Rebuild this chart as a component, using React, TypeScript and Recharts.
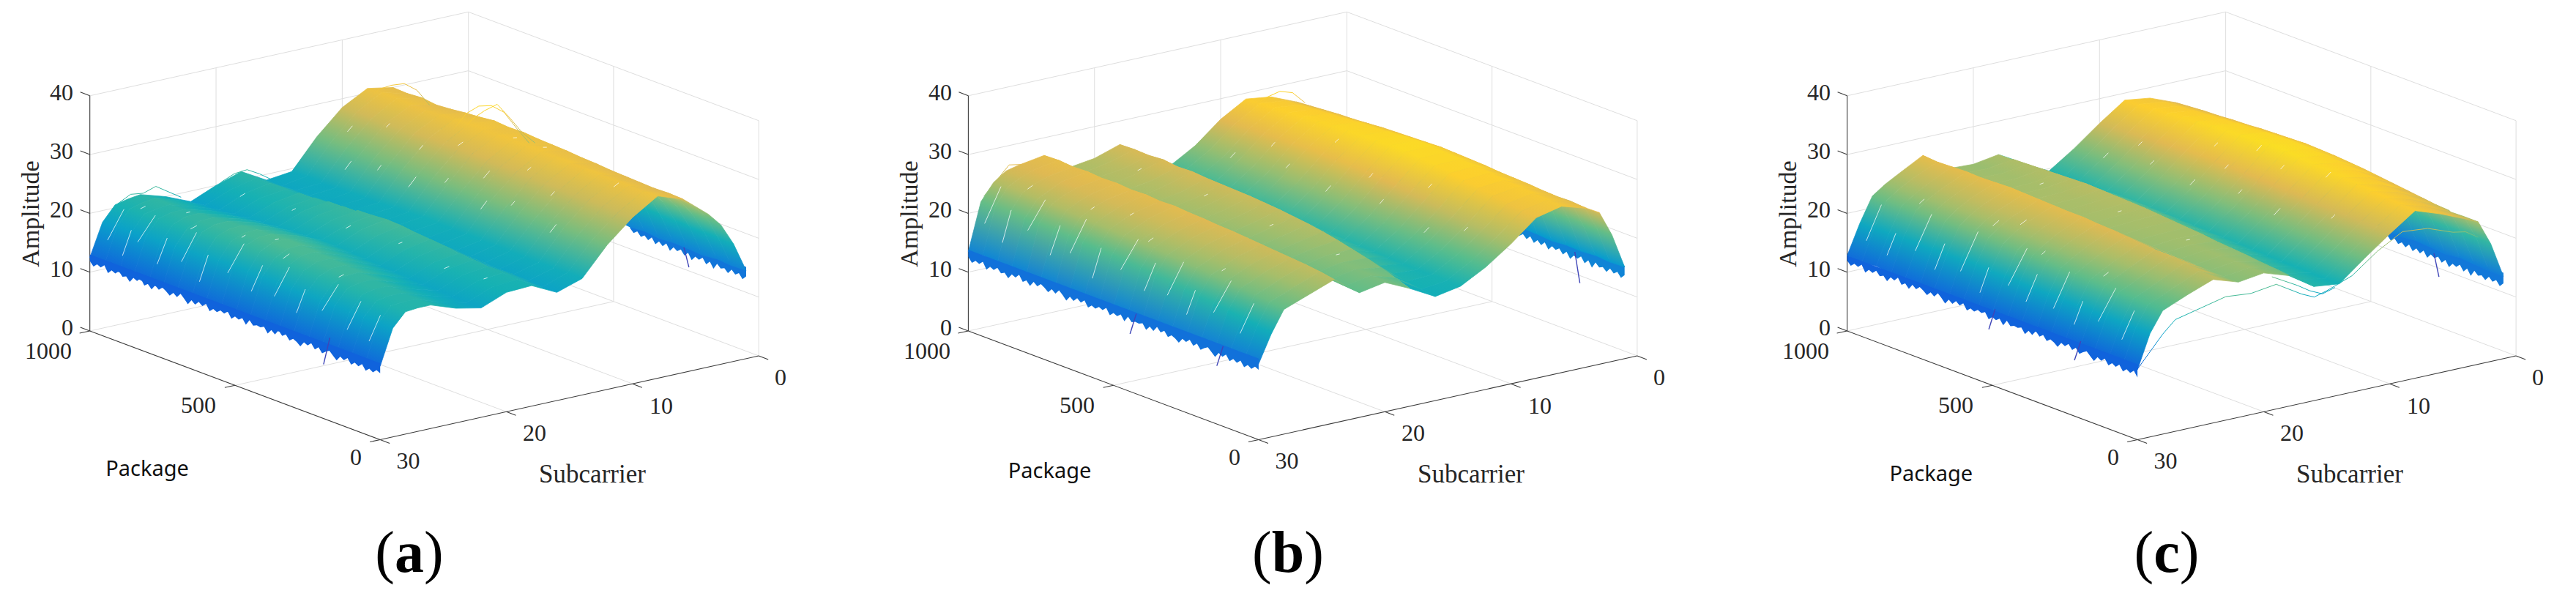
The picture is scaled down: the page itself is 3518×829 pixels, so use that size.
import { Area, ComposedChart, Line, XAxis, YAxis } from 'recharts';

const W = 1200;
const H = 829;

const subcarriers = [30, 29, 28, 27, 26, 24, 22, 20, 18, 16, 14, 12, 10, 8, 6, 4, 3, 2, 1];
const packages = [1000, 950, 900, 850, 800, 750, 700, 650, 600, 550, 500, 450, 400, 350, 300, 250, 200, 150, 100, 50, 0];

const amplitudeTicks = [0, 10, 20, 30, 40];
const packageTicks = [0, 500, 1000];
const subcarrierTicks = [0, 10, 20, 30];

// amplitude per package (rows) and subcarrier (columns)
const rowsA = [
  [12.5, 18.0, 20.5, 21.0, 21.3, 20.0, 18.2, 20.0, 21.4, 19.0, 19.5, 24.5, 28.5, 30.8, 30.0, 26.5, 24.0, 20.5, 15.5],
  [12.2, 18.2, 20.7, 21.3, 21.6, 20.3, 18.5, 20.2, 21.2, 18.9, 19.6, 24.6, 28.7, 31.0, 29.9, 26.4, 23.8, 20.3, 15.2],
  [11.9, 18.1, 20.8, 21.2, 21.4, 20.1, 18.7, 20.5, 21.3, 19.1, 19.4, 24.3, 28.4, 30.9, 30.1, 26.6, 24.1, 20.4, 15.6],
  [12.1, 18.4, 20.9, 21.5, 21.5, 20.4, 18.9, 20.6, 21.1, 19.2, 19.5, 24.4, 28.6, 30.7, 29.8, 26.3, 23.7, 20.1, 15.0],
  [11.7, 18.3, 20.9, 21.7, 21.8, 20.6, 19.1, 20.8, 21.5, 19.0, 19.7, 24.7, 28.5, 30.8, 30.0, 26.7, 24.0, 20.2, 15.4],
  [12.0, 18.5, 21.2, 21.9, 22.0, 20.9, 19.3, 21.0, 21.6, 19.3, 19.6, 24.5, 28.8, 31.0, 30.3, 26.8, 24.2, 20.5, 15.3],
  [12.3, 18.6, 21.4, 22.2, 22.3, 21.2, 19.5, 21.2, 21.9, 19.4, 19.8, 24.8, 28.9, 31.2, 30.5, 27.0, 24.3, 20.6, 15.5],
  [12.2, 18.8, 21.6, 22.4, 22.5, 21.4, 19.7, 21.4, 22.0, 19.5, 19.9, 24.7, 28.8, 31.3, 30.8, 27.3, 24.7, 20.7, 15.4],
  [12.4, 18.9, 21.7, 22.6, 22.7, 21.5, 19.8, 21.5, 22.2, 19.4, 20.0, 24.9, 28.9, 31.1, 30.6, 27.1, 24.5, 20.5, 15.2],
  [12.1, 19.0, 21.9, 22.8, 22.9, 21.7, 20.0, 21.6, 22.3, 19.6, 20.1, 24.8, 29.0, 31.3, 30.7, 27.2, 24.4, 20.4, 15.4],
  [12.0, 18.8, 21.8, 22.9, 23.0, 21.6, 19.9, 21.7, 22.5, 19.5, 20.0, 24.6, 28.7, 31.2, 30.5, 27.0, 24.3, 20.6, 15.1],
  [12.3, 18.9, 21.6, 22.7, 22.8, 21.4, 19.7, 21.5, 22.4, 19.3, 19.9, 24.7, 28.8, 31.3, 30.4, 26.9, 24.2, 20.3, 15.3],
  [12.2, 18.7, 21.4, 22.5, 22.6, 21.2, 19.5, 21.4, 22.1, 19.2, 20.0, 24.8, 28.6, 31.1, 30.3, 26.8, 24.1, 20.4, 15.0],
  [12.0, 18.6, 21.3, 22.3, 22.4, 21.0, 19.3, 21.1, 21.9, 19.0, 19.8, 24.5, 28.5, 31.2, 30.1, 26.6, 23.9, 20.2, 15.2],
  [12.4, 18.8, 21.2, 22.1, 22.2, 20.8, 19.2, 21.0, 21.7, 18.9, 19.9, 24.6, 28.6, 31.0, 30.0, 26.7, 24.0, 20.3, 14.9],
  [12.1, 18.5, 21.0, 21.8, 21.9, 20.5, 19.0, 20.8, 21.4, 18.8, 19.8, 24.4, 28.4, 31.1, 29.8, 26.5, 24.1, 20.1, 15.1],
  [12.3, 18.6, 21.1, 21.6, 21.6, 20.2, 18.9, 20.6, 21.2, 18.6, 19.7, 24.5, 28.3, 30.9, 29.7, 26.6, 23.9, 20.2, 15.0],
  [12.0, 18.4, 20.9, 21.4, 21.4, 20.0, 18.8, 20.5, 21.0, 18.7, 19.8, 24.7, 28.5, 31.0, 29.6, 26.4, 24.0, 20.0, 14.8],
  [12.2, 18.5, 20.8, 21.2, 21.2, 19.8, 18.7, 20.4, 20.8, 18.5, 19.7, 24.5, 28.4, 30.8, 29.5, 26.5, 23.8, 20.1, 15.1],
  [12.4, 18.4, 20.9, 21.1, 21.1, 19.6, 18.6, 20.3, 20.6, 18.4, 19.9, 24.6, 28.2, 30.9, 29.6, 26.4, 24.1, 19.9, 14.9],
  [12.5, 18.5, 20.8, 21.0, 21.0, 19.5, 18.6, 20.3, 20.5, 18.4, 19.8, 24.6, 28.3, 31.0, 29.5, 26.0, 23.7, 20.0, 15.0],
];

const rowsB = [
  [13.5, 21.5, 24.3, 25.8, 26.3, 27.0, 24.0, 24.6, 26.0, 22.5, 20.5, 23.0, 26.5, 29.0, 28.4, 26.6, 24.4, 20.5, 15.5],
  [13.8, 21.7, 24.5, 25.6, 26.4, 27.1, 24.1, 24.8, 26.1, 22.6, 20.6, 23.2, 26.7, 29.2, 28.7, 26.8, 24.5, 20.6, 15.3],
  [13.4, 21.6, 24.4, 25.5, 26.2, 26.9, 24.2, 24.7, 26.0, 22.4, 20.4, 23.1, 26.8, 29.4, 28.9, 27.0, 24.8, 20.8, 15.6],
  [13.7, 21.4, 24.2, 25.3, 26.3, 27.0, 24.0, 24.9, 26.2, 22.3, 20.3, 23.3, 26.9, 29.5, 29.1, 27.2, 25.0, 20.7, 15.4],
  [13.3, 21.5, 24.3, 25.4, 26.1, 26.8, 23.9, 24.6, 25.9, 22.2, 20.2, 23.2, 27.0, 29.7, 29.3, 27.3, 25.2, 20.9, 15.7],
  [13.6, 21.3, 24.1, 25.2, 26.0, 26.9, 23.8, 24.7, 26.0, 22.1, 20.1, 23.1, 27.1, 29.8, 29.5, 27.5, 25.3, 21.0, 15.5],
  [13.2, 21.2, 24.0, 25.1, 25.9, 26.7, 23.7, 24.5, 25.8, 22.0, 20.0, 23.3, 27.2, 30.0, 29.7, 27.7, 25.5, 21.2, 15.8],
  [13.5, 21.0, 23.8, 24.9, 25.8, 26.8, 23.6, 24.4, 25.7, 21.8, 19.9, 23.1, 27.0, 30.1, 29.8, 27.8, 25.6, 21.1, 15.6],
  [13.3, 20.9, 23.7, 24.8, 25.7, 26.6, 23.5, 24.3, 25.6, 21.6, 19.7, 22.9, 27.1, 30.2, 30.0, 27.9, 25.7, 21.3, 15.9],
  [13.1, 20.7, 23.6, 24.6, 25.6, 26.7, 23.4, 24.2, 25.5, 21.4, 19.6, 22.8, 26.9, 30.3, 30.2, 28.0, 25.8, 21.2, 15.7],
  [13.4, 20.5, 23.4, 24.5, 25.5, 26.5, 23.2, 24.1, 25.3, 21.2, 19.4, 22.6, 26.7, 30.4, 30.3, 28.1, 25.9, 21.4, 15.6],
  [13.2, 20.3, 23.3, 24.3, 25.3, 26.4, 23.0, 23.9, 25.1, 21.0, 19.2, 22.4, 26.5, 30.2, 30.1, 28.0, 26.0, 21.5, 15.8],
  [13.0, 20.1, 23.1, 24.1, 25.1, 26.2, 22.8, 23.7, 24.8, 20.7, 19.0, 22.2, 26.2, 30.0, 30.0, 27.9, 25.9, 21.3, 15.5],
  [13.3, 19.8, 22.9, 23.9, 24.9, 26.1, 22.6, 23.5, 24.5, 20.4, 18.9, 21.9, 25.9, 29.7, 29.8, 27.8, 25.8, 21.4, 15.7],
  [13.1, 19.5, 22.7, 23.7, 24.7, 25.9, 22.4, 23.3, 24.1, 20.1, 18.8, 21.7, 25.5, 29.3, 29.5, 27.6, 25.9, 21.5, 15.6],
  [12.9, 19.2, 22.5, 23.4, 24.5, 25.7, 22.2, 23.1, 23.6, 19.7, 18.7, 21.5, 25.1, 29.0, 29.3, 27.5, 25.8, 21.3, 15.4],
  [13.1, 18.9, 22.3, 23.2, 24.2, 25.5, 22.0, 22.9, 23.0, 19.2, 18.6, 21.3, 24.8, 28.6, 29.0, 27.4, 25.7, 21.4, 15.6],
  [12.8, 18.6, 22.0, 22.9, 23.9, 25.3, 21.8, 22.6, 22.4, 18.8, 18.5, 21.1, 24.5, 28.2, 28.8, 27.2, 25.8, 21.6, 15.5],
  [13.0, 18.2, 21.8, 22.6, 23.6, 25.1, 21.6, 22.4, 21.7, 18.4, 18.6, 21.0, 24.2, 27.8, 28.6, 27.1, 25.9, 21.4, 15.7],
  [12.7, 17.8, 21.5, 22.3, 23.2, 24.8, 21.4, 22.2, 20.9, 18.0, 18.5, 20.9, 24.0, 27.5, 28.4, 27.0, 25.7, 21.5, 15.5],
  [12.9, 17.5, 21.2, 22.0, 22.8, 24.4, 21.2, 22.0, 20.0, 17.7, 18.5, 20.8, 23.8, 27.3, 28.3, 27.0, 25.8, 21.5, 15.6],
];

const rowsC = [
  [12.8, 17.8, 22.0, 23.5, 24.7, 27.0, 23.8, 23.6, 24.3, 21.8, 19.6, 22.5, 25.8, 28.8, 28.2, 26.5, 24.0, 20.0, 14.5],
  [12.5, 18.0, 22.2, 23.7, 24.9, 26.8, 23.9, 23.8, 24.4, 21.7, 19.5, 22.6, 26.0, 29.0, 28.5, 26.7, 24.2, 20.2, 14.3],
  [12.9, 17.9, 22.1, 23.6, 24.8, 26.9, 24.0, 23.9, 24.5, 21.6, 19.7, 22.7, 26.2, 29.2, 28.7, 26.9, 24.3, 20.1, 14.6],
  [12.4, 18.1, 22.3, 23.8, 25.0, 27.0, 23.9, 24.0, 24.6, 21.8, 19.8, 22.9, 26.3, 29.4, 28.9, 27.0, 24.5, 20.3, 14.4],
  [12.7, 18.0, 22.4, 23.9, 25.1, 26.9, 24.0, 24.1, 24.7, 21.9, 19.9, 23.0, 26.5, 29.6, 29.1, 27.2, 24.7, 20.4, 14.7],
  [12.3, 18.2, 22.3, 24.0, 25.2, 27.0, 24.1, 24.2, 24.8, 22.0, 20.0, 23.1, 26.6, 29.8, 29.3, 27.3, 24.8, 20.5, 14.5],
  [12.6, 18.1, 22.5, 24.1, 25.3, 27.1, 24.2, 24.3, 24.9, 22.1, 20.0, 23.2, 26.8, 30.0, 29.5, 27.5, 25.0, 20.4, 14.6],
  [12.2, 18.3, 22.4, 24.0, 25.2, 27.0, 24.1, 24.2, 24.8, 22.0, 19.9, 23.1, 26.9, 30.1, 29.6, 27.6, 25.1, 20.6, 14.4],
  [12.5, 18.2, 22.3, 23.9, 25.1, 26.9, 24.0, 24.3, 24.7, 21.9, 19.8, 23.0, 26.8, 30.3, 29.8, 27.7, 25.2, 20.5, 14.7],
  [12.1, 18.0, 22.2, 23.8, 25.0, 26.8, 24.0, 24.2, 24.6, 21.7, 19.7, 22.9, 26.7, 30.4, 29.9, 27.8, 25.3, 20.7, 14.5],
  [12.4, 18.1, 22.1, 23.7, 24.9, 26.7, 23.9, 24.1, 24.5, 21.5, 19.6, 22.8, 26.6, 30.5, 29.9, 27.7, 25.2, 20.6, 14.3],
  [12.0, 17.9, 22.0, 23.5, 24.8, 26.7, 23.8, 24.1, 24.3, 21.3, 19.5, 22.7, 26.5, 30.3, 29.7, 27.6, 25.1, 20.4, 14.6],
  [12.3, 17.8, 21.9, 23.4, 24.6, 26.5, 23.7, 24.0, 24.1, 21.0, 19.4, 22.6, 26.4, 30.1, 29.5, 27.4, 25.0, 20.5, 14.4],
  [11.9, 17.9, 21.8, 23.2, 24.4, 26.4, 23.6, 23.9, 23.9, 20.8, 19.3, 22.6, 26.3, 29.9, 29.2, 27.2, 24.9, 20.3, 14.2],
  [12.2, 17.7, 21.7, 23.0, 24.2, 26.2, 23.5, 23.9, 23.7, 20.6, 19.2, 22.5, 26.1, 29.7, 28.9, 26.9, 24.7, 20.2, 14.5],
  [12.0, 17.8, 21.6, 22.8, 24.0, 26.0, 23.4, 23.8, 23.4, 20.4, 19.1, 22.5, 26.0, 29.5, 28.6, 26.6, 24.6, 20.3, 14.3],
  [11.8, 17.6, 21.5, 22.6, 23.7, 25.8, 23.3, 23.8, 23.2, 20.2, 19.0, 22.4, 25.9, 29.3, 28.2, 26.3, 24.5, 20.1, 14.1],
  [12.1, 17.7, 21.4, 22.4, 23.5, 25.6, 23.2, 23.7, 23.0, 20.0, 19.0, 22.4, 25.8, 29.0, 27.9, 26.0, 24.4, 20.2, 14.4],
  [11.9, 17.5, 21.2, 22.2, 23.2, 25.3, 23.1, 23.7, 22.7, 19.8, 18.9, 22.3, 25.7, 28.8, 27.6, 25.7, 24.3, 20.0, 14.2],
  [12.0, 17.6, 21.1, 22.0, 23.0, 24.9, 23.0, 23.6, 22.5, 19.6, 18.9, 22.3, 25.6, 28.6, 27.3, 25.4, 24.2, 20.1, 14.0],
  [11.9, 17.6, 21.0, 21.9, 22.8, 24.4, 23.0, 23.6, 22.2, 19.4, 18.9, 22.3, 25.5, 28.5, 27.0, 25.2, 24.2, 20.0, 14.0],
];

// ragged lower edge at subcarrier 30, package 1000 down to 0 in steps of 12.5
const fringeA = [11.9, 11.2, 11.8, 11.5, 12.1, 11.0, 11.7, 11.4, 12.0, 11.3, 11.6, 10.9, 11.8, 11.5, 12.2, 11.2, 11.7, 11.0, 11.9, 11.4, 12.0, 11.6, 11.1, 11.8, 11.3, 12.1, 11.5, 10.8, 11.7, 11.2, 11.9, 11.4, 12.0, 11.0, 11.6, 11.3, 11.8, 11.5, 12.1, 11.1, 11.7, 11.4, 11.9, 11.0, 12.0, 11.3, 11.6, 11.5, 11.8, 10.9, 11.7, 11.2, 12.1, 11.4, 11.9, 11.1, 11.6, 11.3, 10.8, 11.7, 11.4, 12.0, 11.2, 11.8, 11.0, 11.5, 11.9, 11.3, 10.7, 11.6, 11.2, 11.8, 10.9, 11.5, 11.1, 11.7, 10.8, 11.4, 11.0, 11.6, 11.3];
const fringeB = [12.6, 11.8, 12.4, 12.1, 12.7, 11.6, 12.3, 12.0, 12.6, 11.9, 12.2, 11.5, 12.4, 12.1, 12.8, 11.8, 12.3, 11.6, 12.5, 12.0, 12.6, 12.2, 11.7, 12.4, 11.9, 12.7, 12.1, 11.4, 12.3, 11.8, 12.5, 12.0, 12.6, 11.6, 12.2, 11.9, 12.4, 12.1, 12.7, 11.7, 12.3, 12.0, 12.5, 11.6, 12.6, 11.9, 12.2, 12.1, 12.4, 11.5, 12.3, 11.8, 12.7, 12.0, 12.5, 11.7, 12.2, 11.9, 11.4, 12.3, 12.0, 12.6, 11.8, 12.4, 11.6, 12.1, 12.5, 11.9, 11.3, 12.2, 11.8, 12.4, 11.5, 12.1, 11.7, 12.3, 11.4, 12.0, 11.6, 12.2, 11.9];
const fringeC = [12.0, 11.3, 11.9, 11.6, 12.2, 11.1, 11.8, 11.5, 12.1, 11.4, 11.7, 11.0, 11.9, 11.6, 12.3, 11.3, 11.8, 11.1, 12.0, 11.5, 12.1, 11.7, 11.2, 11.9, 11.4, 12.2, 11.6, 10.9, 11.8, 11.3, 12.0, 11.5, 12.1, 11.1, 11.7, 11.4, 11.9, 11.6, 12.0, 11.0, 11.6, 11.3, 11.8, 10.9, 11.9, 11.2, 11.5, 11.4, 11.7, 10.8, 11.6, 11.1, 12.0, 11.3, 11.8, 11.0, 11.5, 11.2, 10.7, 11.6, 11.3, 11.9, 11.1, 11.7, 10.9, 11.4, 11.8, 11.2, 10.6, 11.5, 11.1, 11.7, 10.8, 11.4, 11.0, 11.6, 10.7, 11.3, 10.9, 11.5, 10.6];

// ragged lower edge at subcarrier 1, package 400 down to 0 in steps of 12.5
const tailFringeA = [14.8, 14.2, 14.7, 14.0, 14.5, 13.9, 14.6, 13.7, 14.4, 13.8, 14.5, 13.5, 14.3, 13.9, 14.4, 13.6, 14.3, 13.3, 14.1, 13.8, 14.4, 13.5, 14.2, 13.2, 14.3, 13.7, 14.0, 13.4, 14.2, 13.6, 14.1, 13.3, 14.0];
const tailFringeB = [15.0, 14.4, 14.9, 14.2, 14.7, 14.1, 14.8, 13.9, 14.6, 14.0, 14.7, 13.7, 14.5, 14.1, 14.6, 13.8, 14.5, 13.5, 14.3, 14.0, 14.6, 13.7, 14.4, 13.4, 14.5, 13.9, 14.2, 13.6, 14.4, 13.8, 14.3, 13.5, 14.2];
const tailFringeC = [13.6, 12.9, 13.5, 12.8, 13.3, 12.7, 13.4, 12.5, 13.2, 12.6, 13.3, 12.3, 13.1, 12.7, 13.2, 12.4, 13.1, 12.1, 12.9, 12.6, 13.2, 12.3, 13.0, 12.0, 13.1, 12.5, 12.8, 12.2, 13.0, 12.4, 12.9, 12.1, 12.8];

// [subcarrier, package, low amplitude, amplitude it rises to]
const spikesA = [[30, 195, 9.2, 13.5], [1, 197, 11.9, 15.5]];
const spikesB = [[30, 443, 9.8, 13], [30, 144, 9.9, 13], [1, 154, 10, 15.5]];
const spikesC = [[30, 512, 9.3, 12.5], [30, 217, 9.5, 12.5], [1, 222, 9.8, 14]];

// places where the lines leave a thin gap: [subcarrier, package, length in subcarriers]
const gapsA = [[29.4, 965, 1.3], [29.6, 905, 0.7], [29.2, 870, 1.4], [29.5, 790, 0.8], [29.3, 715, 1.2], [29.6, 640, 0.7], [29.2, 560, 1.3], [29.4, 470, 0.9], [29.3, 395, 1.2], [29.5, 310, 0.7], [29.2, 235, 1.3], [29.4, 140, 1.1], [29.5, 60, 0.9], [27.6, 930, 0.4], [28, 740, 0.5], [27.4, 590, 0.3], [27.8, 430, 0.5], [27.3, 260, 0.4], [26.5, 820, 0.3], [26.6, 510, 0.3], [20.4, 900, 0.4], [20.2, 730, 0.3], [20.3, 540, 0.4], [19.8, 380, 0.3], [20.1, 210, 0.4], [19.5, 100, 0.3], [13, 860, 0.5], [12.5, 770, 0.3], [12.8, 650, 0.6], [12, 560, 0.3], [12.6, 410, 0.5], [11.8, 340, 0.3], [12.4, 180, 0.5], [11.2, 930, 0.4], [10.8, 700, 0.3], [11, 470, 0.5], [10.5, 260, 0.3], [10.2, 840, 0.3], [9.8, 610, 0.4], [9.6, 380, 0.3], [7.5, 520, 0.3], [7.2, 430, 0.3], [8.5, 130, 0.4]];
const gapsB = [[29.4, 970, 1.3], [29.6, 900, 0.7], [29.2, 830, 1.4], [29.5, 740, 0.8], [29.3, 680, 1.3], [29.6, 590, 0.7], [29.2, 510, 1.4], [29.4, 420, 0.9], [29.3, 345, 1.3], [29.5, 270, 0.7], [29.2, 190, 1.4], [29.4, 90, 1.1], [27.6, 900, 0.4], [27.2, 700, 0.3], [27.7, 480, 0.4], [27.4, 240, 0.3], [26.4, 600, 0.3], [19.8, 860, 0.3], [19.6, 640, 0.3], [19.7, 410, 0.3], [19.5, 190, 0.3], [12, 880, 0.4], [11.5, 710, 0.3], [11.8, 560, 0.4], [11.2, 400, 0.3], [11.6, 230, 0.4], [10.6, 800, 0.3], [10.2, 480, 0.3], [10.5, 140, 0.3], [9, 650, 0.3], [9.2, 320, 0.3]];
const gapsC = [[29.4, 960, 1.2], [29.6, 880, 0.7], [29.2, 800, 1.3], [29.5, 720, 0.8], [29.3, 640, 1.4], [29.6, 560, 0.7], [29.2, 480, 1.5], [29.4, 410, 0.9], [29.3, 320, 1.3], [29.5, 240, 0.7], [29.2, 170, 1.4], [29.4, 80, 1.0], [27.5, 860, 0.4], [27.2, 620, 0.5], [27.7, 430, 0.3], [27.4, 230, 0.4], [26.4, 560, 0.5], [19.8, 780, 0.3], [19.6, 520, 0.3], [19.7, 280, 0.3], [12, 900, 0.4], [11.5, 760, 0.3], [11.8, 610, 0.4], [11.2, 470, 0.3], [11.6, 330, 0.5], [10.6, 840, 0.3], [10.2, 560, 0.3], [10.5, 180, 0.3], [9, 420, 0.3], [9.2, 640, 0.3], [8.6, 520, 0.4], [8.4, 290, 0.4]];

// single lines that stray from the surface
const hairsA = [
  { p: 660, s: [9, 8, 7, 6, 5, 4, 3], z: [30.6, 32.8, 33.6, 33.2, 31.6, 28.4, 25.4] },
  { p: 640, s: [9, 8, 7, 6, 5, 4, 3], z: [30.2, 32.2, 33.2, 33.8, 31.0, 28.0, 25.8] },
  { p: 990, s: [28, 27, 26, 25, 24, 23], z: [20.9, 22.0, 21.7, 22.4, 21.0, 19.6] },
  { p: 980, s: [21, 20, 19, 18, 17, 16], z: [19.4, 21.0, 21.9, 22.1, 20.9, 19.4] },
  { p: 960, s: [9, 8, 7, 6, 5, 4], z: [29.8, 31.4, 31.6, 31.4, 29.8, 26.8] },
];
const hairsB = [
  { p: 990, s: [29, 28, 27, 26, 25], z: [22.6, 24.8, 27.0, 26.6, 26.9] },
  { p: 970, s: [8, 7, 6, 5, 4], z: [28.6, 29.4, 29.9, 29.2, 27.0] },
];
const hairsC = [
  { p: 0, s: [30, 28, 27, 25, 23, 21, 19, 17, 16, 15, 13, 11, 9, 7, 5, 4, 3], z: [12.0, 17.0, 19.0, 20.0, 21.0, 20.6, 21.2, 18.6, 17.6, 18.2, 19.8, 23.0, 25.4, 25.0, 23.4, 23.0, 21.6] },
  { p: 15, s: [19, 18, 17, 16, 15, 14], z: [22.2, 21.0, 19.8, 18.4, 17.4, 18.0] },
];

const panels = [
  { id: 'a', left: 0, x0: 122.7, rows: rowsA, zMin: 8.3, zMax: 38.6, fringe: fringeA, fringeTop: 13, tail: tailFringeA, tailTop: 15.6, spikes: spikesA, gaps: gapsA, hairs: hairsA, packageLabel: [201, 638] },
  { id: 'b', left: 1200, x0: 122.4, rows: rowsB, zMin: 7.6, zMax: 34.6, fringe: fringeB, fringeTop: 13.8, tail: tailFringeB, tailTop: 15.8, spikes: spikesB, gaps: gapsB, hairs: hairsB, packageLabel: [233.6, 641] },
  { id: 'c', left: 2400, x0: 122.6, rows: rowsC, zMin: 9, zMax: 34, fringe: fringeC, fringeTop: 12.8, tail: tailFringeC, tailTop: 14.6, spikes: spikesC, gaps: gapsC, hairs: hairsC, packageLabel: [237.4, 645.5] },
];

const parula = [
  [53, 42, 135], [15, 92, 221], [18, 125, 216], [7, 156, 207], [21, 177, 180], [89, 189, 140],
  [165, 190, 107], [225, 185, 82], [252, 206, 46], [249, 233, 29], [249, 251, 14],
];

const colorAt = (z: number, zMin: number, zMax: number) => {
  const u = Math.min(0.9999, Math.max(0, (z - zMin) / (zMax - zMin))) * (parula.length - 1);
  const i = Math.floor(u);
  const t = u - i;
  const c = parula[i].map((v, k) => Math.round(v + (parula[i + 1][k] - v) * t));
  return `rgb(${c[0]},${c[1]},${c[2]})`;
};

// oblique view of the MATLAB box, in chart pixels
const PKG_DX = 396.5;
const PKG_DY = 148.5;
const SUB_DX = 517;
const SUB_DY = 114.5;
const Z_SCALE = 8.03;
const NORMAL = Math.hypot(PKG_DX, PKG_DY);

const project = (x0: number, s: number, p: number, z: number) => ({
  x: x0 + (1 - p / 1000) * PKG_DX + ((30 - s) / 30) * SUB_DX,
  y: 452 + (1 - p / 1000) * PKG_DY - ((30 - s) / 30) * SUB_DY - z * Z_SCALE,
});

type Pt = { x: number; y: number };

const yOnPath = (path: Pt[], x: number) => {
  for (let i = 0; i < path.length - 1; i++) {
    const a = path[i];
    const b = path[i + 1];
    if (x <= b.x) {
      const t = b.x === a.x ? 0 : (x - a.x) / (b.x - a.x);
      return a.y + (b.y - a.y) * t;
    }
  }
  return path[path.length - 1].y;
};

// one strip of surface between two neighbouring package rows
const buildPart = (top: Pt[], next: Pt[]) => {
  const upper = [...top, next[next.length - 1]];
  const lower = [top[0], ...next];
  const xs = [...upper, ...lower].map((d) => d.x).sort((a, b) => a - b);
  const out: { x: number; band: number[] }[] = [];
  xs.forEach((x) => {
    if (out.length && x - out[out.length - 1].x < 0.01) return;
    const f = yOnPath(upper, x);
    const g = yOnPath(lower, x);
    out.push({ x, band: [Math.min(f, g), Math.max(f, g)] });
  });
  return out;
};

// runs of a row that face one way, far ones first so near ones paint over them
const facingRuns = (ts: number[]) => {
  const runs: number[][] = [];
  let start = 0;
  let dir = 0;
  for (let k = 1; k < ts.length; k++) {
    const d = Math.sign(ts[k] - ts[k - 1]);
    if (dir && d && d !== dir) {
      runs.push([start, k - 1]);
      start = k - 1;
    }
    if (d) dir = d;
  }
  runs.push([start, ts.length - 1]);
  return runs.reverse();
};

const buildSurface = (panel: (typeof panels)[number]) => {
  const strips: any[] = [];
  const nx = PKG_DY / NORMAL;
  const ny = -PKG_DX / NORMAL;
  const tOf = (d: Pt) => d.x * nx + d.y * ny;
  for (let i = 0; i < packages.length - 1; i++) {
    const row = subcarriers.map((s, k) => project(panel.x0, s, packages[i], panel.rows[i][k]));
    const nextRow = subcarriers.map((s, k) => project(panel.x0, s, packages[i + 1], panel.rows[i + 1][k]));
    facingRuns(row.map(tOf)).forEach(([a, b], n) => {
      const t0 = tOf(row[a]);
      const t1 = tOf(row[b]);
      const stops = [];
      for (let k = a; k <= b; k++) {
        stops.push({
          offset: Math.min(1, Math.max(0, (tOf(row[k]) - t0) / (t1 - t0 || 1))),
          color: colorAt(panel.rows[i][k], panel.zMin, panel.zMax),
        });
      }
      strips.push({
        id: `${panel.id}-s${i}-${n}`,
        data: buildPart(row.slice(a, b + 1), nextRow.slice(a, b + 1)),
        x1: row[a].x,
        y1: row[a].y,
        x2: row[a].x + nx * (t1 - t0),
        y2: row[a].y + ny * (t1 - t0),
        stops,
      });
    });
  }
  return strips;
};

const surfaceZ = (rows: number[][], s: number, p: number) => {
  const row = rows[Math.round((1000 - p) / 50)];
  for (let k = 0; k < subcarriers.length - 1; k++) {
    if (s <= subcarriers[k] && s >= subcarriers[k + 1]) {
      const t = (subcarriers[k] - s) / (subcarriers[k] - subcarriers[k + 1]);
      return row[k] + (row[k + 1] - row[k]) * t;
    }
  }
  return row[row.length - 1];
};

const seg = (x0: number, a: number[], b: number[]) => [project(x0, a[0], a[1], a[2]), project(x0, b[0], b[1], b[2])];

function Axes({ x0 }: { x0: number }) {
  const grid: Pt[][] = [];
  amplitudeTicks.forEach((z) => {
    grid.push(seg(x0, [30, 1000, z], [0, 1000, z]));
    grid.push(seg(x0, [0, 1000, z], [0, 0, z]));
  });
  subcarrierTicks.slice(0, 3).forEach((s) => grid.push(seg(x0, [s, 1000, 0], [s, 1000, 40])));
  packageTicks.slice(0, 2).forEach((p) => grid.push(seg(x0, [0, p, 0], [0, p, 40])));
  subcarrierTicks.slice(1, 3).forEach((s) => grid.push(seg(x0, [s, 0, 0], [s, 1000, 0])));
  grid.push(seg(x0, [30, 500, 0], [0, 500, 0]));

  const dark: Pt[][] = [seg(x0, [30, 1000, 0], [30, 1000, 40]), seg(x0, [30, 1000, 0], [30, 0, 0]), seg(x0, [30, 0, 0], [0, 0, 0])];
  const tick = (d: Pt, dx: number, dy: number) => [d, { x: d.x + dx, y: d.y + dy }];
  amplitudeTicks.forEach((z) => dark.push(tick(project(x0, 30, 1000, z), -13, -5)));
  packageTicks.forEach((p) => dark.push(tick(project(x0, 30, p, 0), -14, 3)));
  subcarrierTicks.forEach((s) => dark.push(tick(project(x0, s, 0, 0), 13, 5)));

  return (
    <>
      {grid.map((d, i) => (
        <Line key={`g${i}`} data={d} dataKey="y" stroke="#dedede" strokeWidth={1} dot={false} activeDot={false} isAnimationActive={false} />
      ))}
      {dark.map((d, i) => (
        <Line key={`d${i}`} data={d} dataKey="y" stroke="#3a3a3a" strokeWidth={1.1} dot={false} activeDot={false} isAnimationActive={false} />
      ))}
    </>
  );
}

const serif = { fontFamily: '"Liberation Serif", serif', fill: '#262626' };

function Labels({ panel }: { panel: (typeof panels)[number] }) {
  const zPos = (z: number) => 452 - z * Z_SCALE - 5;
  const pkgPos = [[486, 624], [271, 553], [66, 479]];
  const subPos = [[1066, 515], [903, 554], [730, 591], [557.5, 628.6]];
  return (
    <>
      {amplitudeTicks.map((z) => (
        <text key={z} x={100} y={zPos(z)} textAnchor="end" dominantBaseline="central" fontSize={32} style={serif}>{z}</text>
      ))}
      {packageTicks.map((p, i) => (
        <text key={p} x={pkgPos[i][0]} y={pkgPos[i][1]} textAnchor="middle" dominantBaseline="central" fontSize={32} style={serif}>{p}</text>
      ))}
      {subcarrierTicks.map((s, i) => (
        <text key={s} x={subPos[i][0]} y={subPos[i][1]} textAnchor="middle" dominantBaseline="central" fontSize={32} style={serif}>{s}</text>
      ))}
      <text x={41} y={292} textAnchor="middle" dominantBaseline="central" fontSize={34} style={serif} transform="rotate(-90 41 292)">Amplitude</text>
      <text x={809} y={647} textAnchor="middle" dominantBaseline="central" fontSize={35} style={serif}>Subcarrier</text>
      <text x={panel.packageLabel[0]} y={panel.packageLabel[1]} textAnchor="middle" dominantBaseline="central" fontSize={29} style={{ fontFamily: '"Noto Sans", sans-serif', fill: '#111' }}>Package</text>
      <text x={559} y={781} textAnchor="middle" fontSize={80} style={{ fontFamily: '"Liberation Serif", serif', fill: '#000' }}>
        (<tspan fontWeight="bold">{panel.id}</tspan>)
      </text>
    </>
  );
}

function Panel({ panel }: { panel: (typeof panels)[number] }) {
  const x0 = panel.x0;
  const strips = buildSurface(panel);
  const fringe = panel.fringe.map((z, i) => {
    const p = 1000 - i * 12.5;
    const lo = project(x0, 30, p, z);
    return { x: lo.x, band: [project(x0, 30, p, panel.fringeTop).y, lo.y] };
  });
  const tail = panel.tail.map((z, i) => {
    const p = 400 - i * 12.5;
    const lo = project(x0, 1, p, z);
    return { x: lo.x, band: [project(x0, 1, p, panel.tailTop).y, lo.y] };
  });
  const spikes = panel.spikes.map(([s, p, lo, hi]) => seg(x0, [s, p, lo], [s === 30 ? 29.5 : 1.4, p, hi]));
  const gaps = panel.gaps.flatMap(([s, p, len]) => {
    const a = project(x0, s, p, surfaceZ(panel.rows, s, p));
    const b = project(x0, s - len, p, surfaceZ(panel.rows, s - len, p));
    return [a, b, { x: b.x, y: null as any }];
  });
  const hairs = panel.hairs.map((h, i) => {
    const pts = h.s.map((s, k) => project(x0, s, h.p, h.z[k]));
    const x1 = pts[0].x;
    const x2 = pts[pts.length - 1].x;
    return {
      id: `${panel.id}-h${i}`,
      pts,
      x1,
      x2,
      stops: h.z.map((z, k) => ({ offset: (pts[k].x - x1) / (x2 - x1), color: colorAt(z, panel.zMin, panel.zMax) })),
    };
  });

  return (
    <>
      <div style={{ position: 'absolute', left: panel.left, top: 0 }}>
        <ComposedChart width={W} height={H} margin={{ top: 0, right: 0, bottom: 0, left: 0 }}>
          <XAxis type="number" dataKey="x" domain={[0, W]} hide />
          <YAxis type="number" domain={[0, H]} reversed hide />
          {Axes({ x0 })}
          {Labels({ panel })}
        </ComposedChart>
      </div>
      <div style={{ position: 'absolute', left: panel.left, top: 0 }}>
        <ComposedChart width={W} height={H} margin={{ top: 0, right: 0, bottom: 0, left: 0 }}>
          <defs>
            {strips.map((st) => (
              <linearGradient key={st.id} id={st.id} gradientUnits="userSpaceOnUse" x1={st.x1} y1={st.y1} x2={st.x2} y2={st.y2}>
                {st.stops.map((c: any, k: number) => (
                  <stop key={k} offset={c.offset} stopColor={c.color} />
                ))}
              </linearGradient>
            ))}
            {hairs.map((h) => (
              <linearGradient key={h.id} id={h.id} gradientUnits="userSpaceOnUse" x1={h.x1} y1={0} x2={h.x2} y2={0}>
                {h.stops.map((c, k) => (
                  <stop key={k} offset={c.offset} stopColor={c.color} />
                ))}
              </linearGradient>
            ))}
          </defs>
          <XAxis type="number" dataKey="x" domain={[0, W]} hide />
          <YAxis type="number" domain={[0, H]} reversed hide />
          <Area data={tail} dataKey="band" type="linear" stroke="none" fill={colorAt(13.6, panel.zMin, panel.zMax)} fillOpacity={1} dot={false} activeDot={false} isAnimationActive={false} />
          {strips.map((st) => (
            <Area key={st.id} data={st.data} dataKey="band" type="linear" stroke={`url(#${st.id})`} strokeWidth={0.8} fill={`url(#${st.id})`} fillOpacity={1} dot={false} activeDot={false} isAnimationActive={false} />
          ))}
          <Area data={fringe} dataKey="band" type="linear" stroke="none" fill={colorAt(12, panel.zMin, panel.zMax)} fillOpacity={1} dot={false} activeDot={false} isAnimationActive={false} />
          {hairs.map((h) => (
            <Line key={h.id} data={h.pts} dataKey="y" stroke={`url(#${h.id})`} strokeWidth={1} dot={false} activeDot={false} isAnimationActive={false} />
          ))}
          {spikes.map((d, i) => (
            <Line key={i} data={d} dataKey="y" stroke="#3f45b8" strokeWidth={1.4} dot={false} activeDot={false} isAnimationActive={false} />
          ))}
          <Line data={gaps} dataKey="y" stroke="#ffffff" strokeOpacity={0.75} strokeWidth={1} dot={false} activeDot={false} isAnimationActive={false} />
        </ComposedChart>
      </div>
    </>
  );
}

export default function App() {
  return (
    <div style={{ position: 'absolute', left: 0, top: 0, width: 3518, height: 829, background: '#fff', overflow: 'hidden' }}>
      {panels.map((panel) => (
        <Panel key={panel.id} panel={panel} />
      ))}
    </div>
  );
}
